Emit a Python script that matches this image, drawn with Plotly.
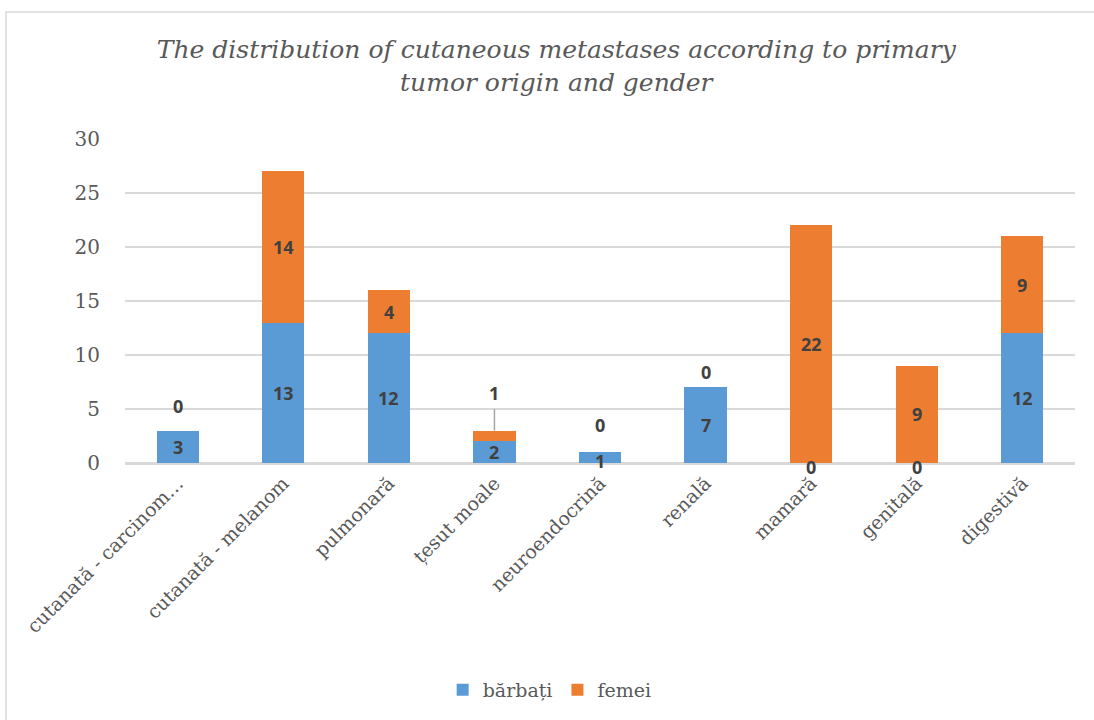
import plotly.graph_objects as go

categories = [
    "cutanată - carcinom…", "cutanată - melanom", "pulmonară", "țesut moale",
    "neuroendocrină", "renală", "mamară", "genitală", "digestivă",
]
barbati = [3, 13, 12, 2, 1, 7, 0, 0, 12]
femei = [0, 14, 4, 1, 0, 0, 22, 9, 9]

# pixel offsets for labels that cannot sit inside their (empty or thin) segment
femei_label_shift = {0: 25, 3: 38, 4: 27, 5: 15}
barbati_label_shift = {4: -3, 6: -4, 7: -4}

BLUE = "#5B9BD5"
ORANGE = "#ED7D31"
GREY = "#595959"
LABEL = "#404040"
SERIF = "DejaVu Serif"
SANS = "Open Sans"

fig = go.Figure()
fig.add_trace(go.Bar(x=categories, y=barbati, name="bărbați", marker=dict(color=BLUE, line=dict(width=0))))
fig.add_trace(go.Bar(x=categories, y=femei, name="femei", marker=dict(color=ORANGE, line=dict(width=0))))

annotations = []
for i, cat in enumerate(categories):
    m, f = barbati[i], femei[i]
    annotations.append(dict(
        x=cat, y=m / 2, xref="x", yref="y", text=f"<b>{m}</b>", showarrow=False,
        yshift=barbati_label_shift.get(i, 0), yanchor="middle",
        font=dict(family=SANS, size=18, color=LABEL),
    ))
    if i in femei_label_shift:
        y_f, shift_f = m + f, femei_label_shift[i]
    else:
        y_f, shift_f = m + f / 2, 0
    annotations.append(dict(
        x=cat, y=y_f, xref="x", yref="y", text=f"<b>{f}</b>", showarrow=False,
        yshift=shift_f, yanchor="middle",
        font=dict(family=SANS, size=18, color=LABEL),
    ))

shapes = [
    # outer chart frame
    dict(type="rect", xref="paper", yref="paper", x0=-0.1253, x1=1.05, y0=-0.85, y1=1.392,
         line=dict(color="#D9D9D9", width=1.5), fillcolor="rgba(0,0,0,0)", layer="below"),
]
# leader line for the small femei segment of "țesut moale"
ti = 3
shapes.append(dict(
    type="line", xref="x", yref="y",
    x0=ti, x1=ti, y0=barbati[ti] + femei[ti], y1=barbati[ti] + femei[ti] + 2.0,
    line=dict(color="#A6A6A6", width=1.5),
))

fig.update_layout(
    barmode="stack",
    bargap=0.6,
    width=1094, height=720,
    margin=dict(l=125, r=19, t=139, b=257),
    paper_bgcolor="white", plot_bgcolor="white",
    title=dict(
        text="<i>The distribution of cutaneous metastases according to primary<br>tumor origin and gender</i>",
        x=0.454, xref="paper", xanchor="center",
        y=1 - 58 / 720, yref="container", yanchor="top",
        font=dict(family=SERIF, size=25, color=GREY),
    ),
    showlegend=True,
    legend=dict(
        orientation="h", x=0.447, xanchor="center", y=-0.70, yanchor="middle",
        font=dict(family=SERIF, size=19, color=GREY), traceorder="normal",
        itemwidth=30,
    ),
    annotations=annotations,
    shapes=shapes,
)
fig.update_yaxes(
    range=[0, 30], dtick=5, showgrid=True, gridcolor="#D9D9D9", gridwidth=1.5,
    zeroline=True, zerolinecolor="#D9D9D9", zerolinewidth=1.5,
    tickfont=dict(family=SERIF, size=20, color=GREY), ticks="", ticklabelstandoff=24,
    showline=False,
)
fig.update_xaxes(
    tickangle=-45, tickfont=dict(family=SERIF, size=19, color=GREY), ticks="",
    showline=True, linecolor="#D9D9D9", linewidth=1.5, showgrid=False,
)

fig.write_html("out.html")
